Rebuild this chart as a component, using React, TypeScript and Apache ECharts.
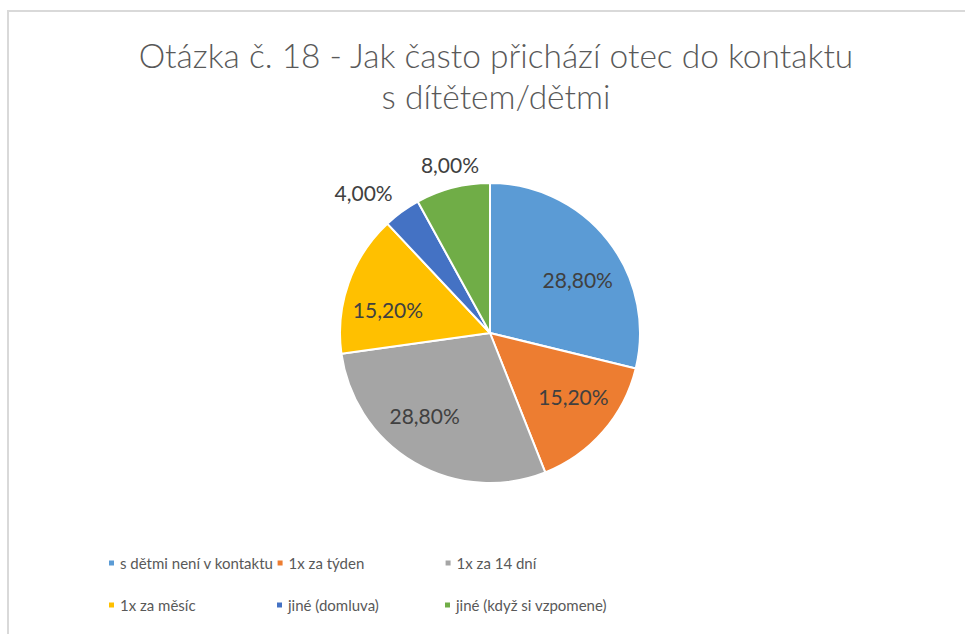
import React, { useEffect, useRef } from "react";
import * as echarts from "echarts";

const titleLines = [
  "Otázka č. 18 - Jak často přichází otec do kontaktu",
  "s dítětem/dětmi",
];
const categories = [
  "s dětmi není v kontaktu",
  "1x za týden",
  "1x za 14 dní",
  "1x za měsíc",
  "jiné (domluva)",
  "jiné (když si vzpomene)",
];
const values = [28.8, 15.2, 28.8, 15.2, 4.0, 8.0];
const colors = ["#5B9BD5", "#ED7D31", "#A5A5A5", "#FFC000", "#4472C4", "#70AD47"];
// where each percentage label sits: inside the slice or just outside it
const labelPlacement = ["inside", "inside", "inside", "inside", "outside", "outside"];
// small nudges [dx, dy] of each label from its default anchor
const labelNudge: [number, number][] = [
  [6, 11],
  [5, -5],
  [-13, -7],
  [-4, 11],
  [-20, 6],
  [5, 7],
];

const FONT = "Lato, 'Open Sans', sans-serif";
const TEXT = "#595959";
const CENTER = [490, 333];
const R = 150;

const fmt = (v: number) => v.toFixed(2).replace(".", ",") + "%";

export default function App() {
  const ref = useRef<HTMLDivElement>(null);
  useEffect(() => {
    if (!ref.current) return;
    const chart = echarts.init(ref.current, undefined, { renderer: "svg" });
    const labelSeries = (place: string, radius: [number, number]) => ({
      type: "pie",
      center: CENTER,
      radius,
      startAngle: 90,
      clockwise: true,
      silent: true,
      avoidLabelOverlap: false,
      itemStyle: { color: "rgba(0,0,0,0)", borderWidth: 0 },
      emphasis: { disabled: true },
      labelLine: { show: false },
      label: {
        position: "inside",
        color: "#404040",
        fontSize: 21,
        fontFamily: FONT,
        formatter: (p: any) => fmt(p.value),
      },
      labelLayout: (p: any) => ({
        dx: labelNudge[p.dataIndex][0],
        dy: labelNudge[p.dataIndex][1],
      }),
      data: categories.map((name, i) => ({
        name,
        value: values[i],
        label: { show: labelPlacement[i] === place },
      })),
    });
    chart.setOption({
      animation: false,
      backgroundColor: "#ffffff",
      title: {
        text: titleLines.join("\n"),
        left: 491,
        top: 30,
        textAlign: "center",
        textStyle: {
          fontFamily: FONT,
          fontSize: 33.5,
          fontWeight: 300,
          lineHeight: 40.5,
          color: TEXT,
        },
      },
      legend: {
        left: 102,
        top: 538,
        width: 510,
        orient: "horizontal",
        icon: "rect",
        itemWidth: 7,
        itemHeight: 7,
        itemGap: 2,
        data: categories,
        formatter: (name: string) => `{n|${name}}`,
        textStyle: {
          fontFamily: FONT,
          fontSize: 15,
          color: TEXT,
          rich: {
            n: {
              width: 153,
              height: 40,
              lineHeight: 40,
              fontFamily: FONT,
              fontSize: 15,
              color: TEXT,
            },
          },
        },
      },
      graphic: [
        {
          type: "rect",
          shape: { x: 8, y: 11, width: 1000, height: 700 },
          style: { fill: "none", stroke: "#d9d9d9", lineWidth: 2 },
          silent: true,
        },
      ],
      series: [
        {
          type: "pie",
          center: CENTER,
          radius: R,
          startAngle: 90,
          clockwise: true,
          label: { show: false },
          labelLine: { show: false },
          itemStyle: { borderColor: "#ffffff", borderWidth: 2 },
          emphasis: { disabled: true },
          data: categories.map((name, i) => ({
            name,
            value: values[i],
            itemStyle: { color: colors[i] },
          })),
        },
        labelSeries("inside", [52, R]),
        labelSeries("outside", [R, 206]),
      ],
    });
    return () => chart.dispose();
  }, []);
  return (
    <div
      ref={ref}
      style={{ position: "absolute", left: 0, top: 0, width: 965, height: 634 }}
    />
  );
}
